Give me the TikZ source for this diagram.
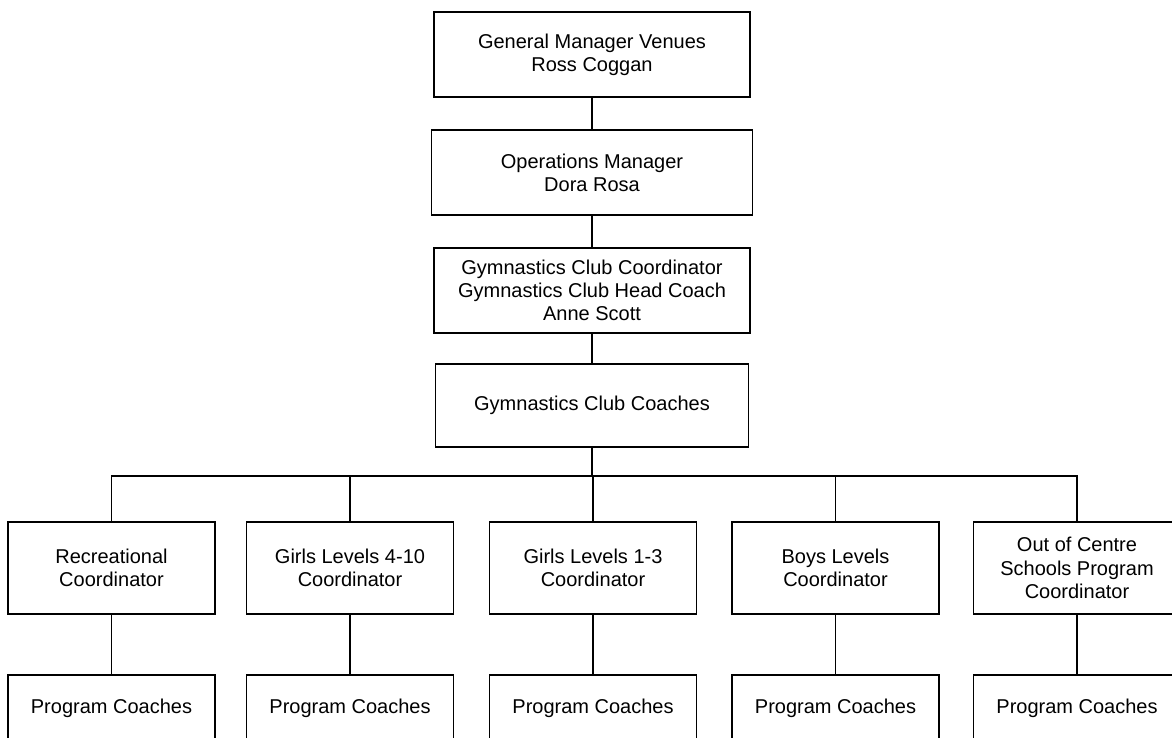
\documentclass[tikz,border=0pt]{standalone}
\usepackage{fontspec}
\setmainfont{Liberation Sans}

\begin{document}
\begin{tikzpicture}[
                x=1pt, y=-1pt,
                box/.style={draw, line width=1.8pt, align=center, inner sep=0pt,
                        font=\fontsize{20}{23.3}\selectfont},
                head/.style={box, minimum width=316, minimum height=85},
                unitbox/.style={box, minimum width=207, minimum height=92},
                coachbox/.style={box, minimum width=207, minimum height=66},
                link/.style={line width=1.8pt}
            ]

            \clip (0,0) rectangle (1172,737);

            \node[head] (gm) at (592,54.5) {General Manager Venues\\Ross Coggan};
            \node[head, minimum width=321] (ops) at (592,172.5) {Operations Manager\\Dora Rosa};
            \node[head] (coord) at (592,290.5) {Gymnastics Club Coordinator\\Gymnastics Club Head Coach\\Anne Scott};
            \node[head, minimum width=313, minimum height=83] (coaches) at (592,405.5) {Gymnastics Club Coaches};

            \node[unitbox] (rec) at (111.5,568) {Recreational\\Coordinator};
            \node[unitbox] (gten) at (350,568) {Girls Levels 4-10\\Coordinator};
            \node[unitbox] (gone) at (593,568) {Girls Levels 1-3\\Coordinator};
            \node[unitbox] (boys) at (835.5,568) {Boys Levels\\Coordinator};
            \node[unitbox] (ooc) at (1077,568) {Out of Centre\\Schools Program\\Coordinator};

            \foreach \n in {rec,gten,gone,boys,ooc}
                \node[coachbox] (\n-pc) at (\n |- 0,708) {Program Coaches};

            \draw[link] (gm) -- (ops);
            \draw[link] (ops) -- (coord);
            \draw[link] (coord) -- (coaches);

            \coordinate (bus) at (592,476);
            \draw[link] (coaches.south) -- (bus);
            \foreach \n in {rec,gten,gone,boys,ooc} {
                \draw[link] (bus) -| (\n.north);
                \draw[link] (\n.south) -- (\n-pc.north);
            }

        \end{tikzpicture}
\end{document}
